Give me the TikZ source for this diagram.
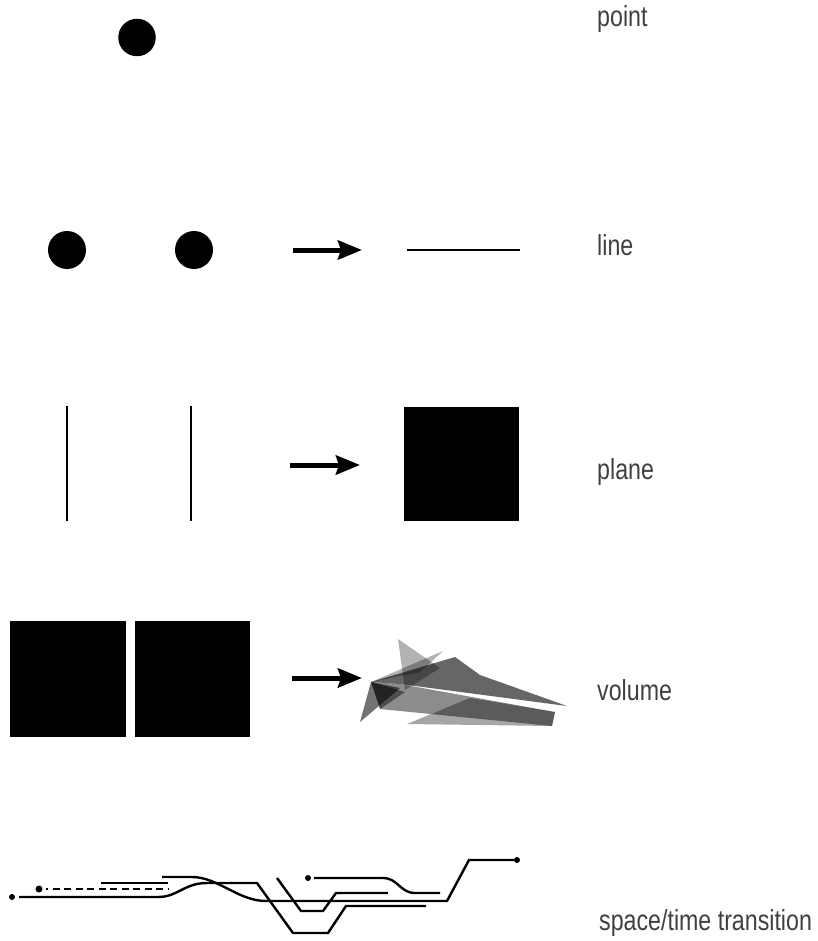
\documentclass[tikz,border=0pt]{standalone}
\usepackage{fontspec}
\setmainfont{Liberation Sans}[FakeStretch=0.8]
\usetikzlibrary{arrows.meta}
\begin{document}
\begin{tikzpicture}[x=1pt,y=-1pt,
  dot/.style={circle,fill=black,inner sep=0pt,minimum size=#1},
  caption/.style={anchor=base west,inner sep=0pt,font=\fontsize{29}{33}\selectfont,text=black!75},
  push/.style={line width=5pt,-{Stealth[length=24pt,width=19pt,inset=3pt]}},
  rail/.style={line width=2.4pt},
  facet/.style={fill=black,fill opacity=#1}]
\useasboundingbox (0,0) rectangle (818,941);

% ---- point
\node[dot=37.5pt] (p0) at (137,37.5) {};
\node[caption] (tpoint) at (597,27) {point};

% ---- line
\node[dot=38pt] (l1) at (67,250) {};
\node[dot=38pt] (l2) at (194,250) {};
\coordinate (la) at (293,250);
\coordinate (lb) at (362,250);
\draw[push] (la) -- (lb);
\coordinate (ls) at (407,250);
\coordinate (le) at (520,250);
\draw[line width=2pt] (ls) -- (le);
\node[caption] (tline) at (597,255) {line};

% ---- plane
\coordinate (v1a) at (67,406);  \coordinate (v1b) at (67,521);
\coordinate (v2a) at (191,406); \coordinate (v2b) at (191,521);
\draw[line width=2.4pt] (v1a) -- (v1b) (v2a) -- (v2b);
\coordinate (pa) at (290,465);
\coordinate (pb) at (360,465);
\draw[push] (pa) -- (pb);
\fill (404,407) rectangle (519,521);
\node[caption] (tplane) at (597,479) {plane};

% ---- volume
\fill (10,621) rectangle (126,737);
\fill (135,621) rectangle (250,737);
\coordinate (va) at (292,678);
\coordinate (vb) at (362,678);
\draw[push] (va) -- (vb);
\begin{scope}
  % upper band
  \fill[facet=0.6] (371,682) -- (455,657) -- (480,675) -- (567,706) -- (400,684) -- cycle;
  % lower band
  \fill[facet=0.45] (371,682) -- (400,684) -- (555,712) -- (552,726) -- (380,709) -- cycle;
  % light lower facet
  \fill[facet=0.35] (407,724) -- (470,698) -- (555,712) -- (552,726) -- cycle;
  % left wedge
  \fill[facet=0.55] (371,682) -- (400,688) -- (360,722) -- cycle;
  % spikes
  \fill[facet=0.3] (398,639) -- (440,668) -- (405,690) -- cycle;
  \fill[facet=0.3] (371,682) -- (443,651) -- (420,672) -- cycle;
  % dark core
  \fill[facet=0.45] (371,682) -- (380,709) -- (405,692) -- cycle;
\end{scope}
\node[caption] (tvolume) at (597,700) {volume};

% ---- space/time transition
\node[dot=6pt] (s1) at (12,897) {};
\node[dot=7pt] (s2) at (39,889) {};
\node[dot=6pt] (s3) at (308,878) {};
\node[dot=6pt] (s4) at (517,860) {};
\draw[rail] (s1.east) ++(4,0) -- (158,897) .. controls (178,897) and (184,883) .. (207,883)
  -- (257,883) -- (293,933) -- (328,933) -- (346,906) -- (426,906);
\draw[rail] (162,877) -- (192,877) .. controls (218,877) and (238,901) .. (266,901)
  -- (447,901) -- (469,860) -- (s4.west) ++(-3,0);
\draw[rail] (101,883) -- (168,883);
\draw[line width=2.4pt,dash pattern=on 2pt off 5pt on 7pt off 4.5pt on 7pt off 4.5pt on 7pt off 4.5pt on 7pt off 4.5pt on 7pt off 4.5pt on 7pt off 4.5pt on 7pt off 4.5pt on 7pt off 4.5pt on 7pt off 4.5pt on 7pt off 4.5pt]
  (s2.east) ++(3,0) -- (168,889);
\draw[rail] (277,878) -- (301,911) -- (323,911) -- (336,893) -- (388,893);
\draw[rail] (s3.east) ++(3,0) -- (383,878) .. controls (398,878) and (400,893) .. (415,893) -- (440,893);
\node[caption] (tspace) at (599,930) {space/time transition};
\end{tikzpicture}
\end{document}
